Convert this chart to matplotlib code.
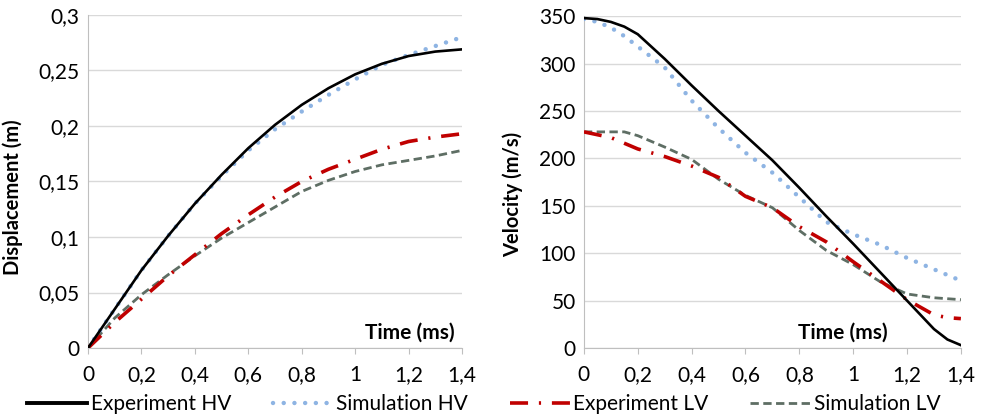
import numpy as np
import matplotlib.pyplot as plt

plt.rcParams['font.family'] = ['Lato', 'DejaVu Sans']

# Time (ms) for the displacement chart
t_d = [0, 0.1, 0.2, 0.3, 0.4, 0.5, 0.6, 0.7, 0.8, 0.9, 1.0, 1.1, 1.2, 1.3, 1.4]

# Displacement (m)
disp_exp_hv = [0, 0.035, 0.070, 0.101, 0.130, 0.156, 0.180, 0.201, 0.219, 0.234, 0.2465, 0.256, 0.263, 0.267, 0.269]
disp_sim_hv = [0, 0.035, 0.070, 0.101, 0.130, 0.155, 0.178, 0.197, 0.213, 0.228, 0.242, 0.255, 0.264, 0.272, 0.280]
disp_exp_lv = [0, 0.023, 0.044, 0.065, 0.084, 0.103, 0.120, 0.136, 0.150, 0.161, 0.170, 0.179, 0.186, 0.190, 0.193]
disp_sim_lv = [0, 0.027, 0.048, 0.066, 0.083, 0.099, 0.113, 0.127, 0.141, 0.151, 0.159, 0.165, 0.169, 0.173, 0.178]

# Time (ms) for the velocity chart
t_v = [0, 0.05, 0.1, 0.15, 0.2, 0.3, 0.4, 0.5, 0.6, 0.7, 0.8, 0.9, 1.0, 1.1, 1.2, 1.3, 1.35, 1.4]

# Velocity (m/s)
vel_exp_hv = [348, 347, 344, 339, 331, 305, 277, 250, 224, 198, 169, 139, 110, 80, 50, 20, 9, 3]
vel_sim_hv = [347, 344, 338, 329, 318, 296, 261, 232, 206, 185, 159, 133, 120, 109, 95, 83, 77, 71]
vel_exp_lv = [228, 225, 222, 216, 210, 202, 192, 180, 160, 148, 128, 112, 91, 71, 51, 35, 32, 31]
vel_sim_lv = [228, 228, 228, 228, 224, 212, 199, 178, 161, 148, 124, 103, 88, 70, 57, 53, 52, 51]

x_ticks = [0, 0.2, 0.4, 0.6, 0.8, 1.0, 1.2, 1.4]
x_labels = ['0', '0,2', '0,4', '0,6', '0,8', '1', '1,2', '1,4']
yd_ticks = [0, 0.05, 0.1, 0.15, 0.2, 0.25, 0.3]
yd_labels = ['0', '0,05', '0,1', '0,15', '0,2', '0,25', '0,3']
yv_ticks = [0, 50, 100, 150, 200, 250, 300, 350]
yv_labels = ['0', '50', '100', '150', '200', '250', '300', '350']

c_exp_hv = '#000000'
c_sim_hv = '#8EB4E3'
c_exp_lv = '#C00000'
c_sim_lv = '#5E6E64'

fig = plt.figure(figsize=(9.83, 4.2), dpi=100)
ax1 = fig.add_axes([0.0895, 0.1714, 0.3805, 0.793])
ax2 = fig.add_axes([0.594, 0.1714, 0.3835, 0.790])


def draw(ax, x, hv_e, hv_s, lv_e, lv_s, time_x):
    l1, = ax.plot(x, hv_e, color=c_exp_hv, lw=1.9, label='Experiment HV', zorder=4)
    l2, = ax.plot(x, hv_s, color=c_sim_hv, lw=3.2, linestyle=(0, (0.01, 2.4)),
                  dash_capstyle='round', label='Simulation HV', zorder=3)
    l3, = ax.plot(x, lv_e, color=c_exp_lv, lw=2.6, linestyle=(0, (5, 3, 0.6, 3)),
                  label='Experiment LV', zorder=3)
    l4, = ax.plot(x, lv_s, color=c_sim_lv, lw=2.0, linestyle=(0, (3, 1.6)),
                  label='Simulation LV', zorder=2)
    ax.set_xlim(0, 1.4)
    ax.set_xticks(x_ticks)
    ax.set_xticklabels(x_labels)
    ax.grid(axis='y', color='#D9D9D9', lw=1)
    ax.set_axisbelow(True)
    for s in ['top', 'right']:
        ax.spines[s].set_visible(False)
    for s in ['left', 'bottom']:
        ax.spines[s].set_color('#BFBFBF')
    ax.tick_params(axis='x', length=4, color='#BFBFBF', labelsize=15, pad=8)
    ax.tick_params(axis='y', length=0, labelsize=15, pad=6)
    ax.text(time_x, 0.015, 'Time (ms)', transform=ax.transAxes, ha='right', va='bottom',
            fontsize=15, fontweight='bold')
    return [l1, l2, l3, l4]


handles = draw(ax1, t_d, disp_exp_hv, disp_sim_hv, disp_exp_lv, disp_sim_lv, 0.981)
ax1.set_ylim(0, 0.3)
ax1.set_yticks(yd_ticks)
ax1.set_yticklabels(yd_labels)
ax1.set_ylabel('Displacement (m)', fontsize=14.5, fontweight='bold')
ax1.yaxis.set_label_coords(-0.174, 0.453)

draw(ax2, t_v, vel_exp_hv, vel_sim_hv, vel_exp_lv, vel_sim_lv, 0.806)
ax2.set_ylim(0, 350)
ax2.set_yticks(yv_ticks)
ax2.set_yticklabels(yv_labels)
ax2.set_ylabel('Velocity (m/s)', fontsize=14.5, fontweight='bold')
ax2.yaxis.set_label_coords(-0.162, 0.464)

leg = fig.legend(handles=handles, loc='lower center', bbox_to_anchor=(0.492, -0.03), ncol=4,
                 frameon=False, fontsize=15, handlelength=2.9, handletextpad=0.15,
                 columnspacing=2.0)
leg.get_lines()[0].set_linewidth(2.8)

fig.savefig('out.png', dpi=100)
